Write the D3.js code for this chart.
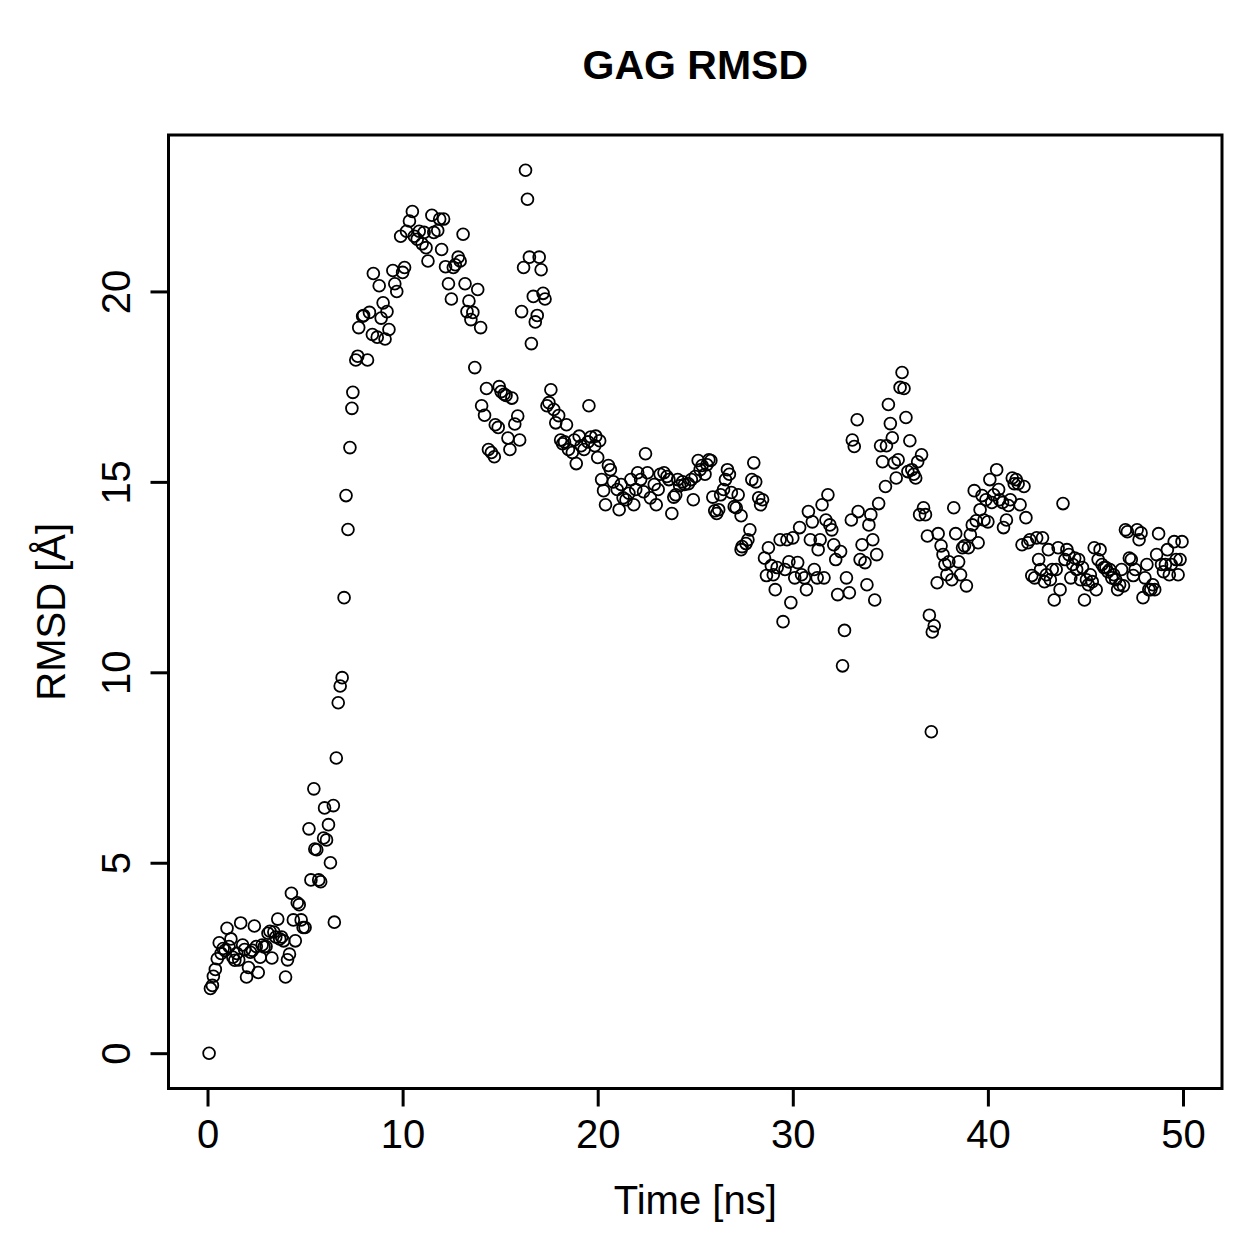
<!DOCTYPE html>
<html><head><meta charset="utf-8">
<script src="https://cdn.jsdelivr.net/npm/d3@7"></script>
<style>body{margin:0;background:#fff}svg{display:block}text{font-family:"Liberation Sans",Arial,Helvetica,sans-serif}</style>
</head><body>
<script>
const timeNs = [
0.08,0.15,0.25,0.3,0.4,0.5,0.6,0.7,0.8,0.9,1.0,1.1,1.2,1.3,1.4,1.5,1.6,1.7,1.8,1.9,
2.0,2.1,2.2,2.3,2.4,2.5,2.6,2.7,2.8,2.9,3.0,3.1,3.2,3.3,3.4,3.5,3.6,3.7,3.8,3.9,
4.0,4.1,4.2,4.3,4.4,4.5,4.6,4.7,4.8,4.9,5.0,
5.2,5.3,5.45,5.5,5.6,5.7,5.8,5.95,6.0,6.1,6.2,6.3,6.45,6.5,6.6,6.7,6.8,6.9,7.0,7.1,7.2,7.3,7.4,7.45,7.6,7.7,7.75,7.95,8.0,
8.2,8.3,8.45,8.5,8.7,8.8,8.9,9.0,9.1,9.2,9.3,9.5,9.6,9.7,9.9,10.0,10.1,10.2,10.35,10.5,10.6,10.75,10.85,11.0,11.1,11.2,11.3,11.5,11.6,11.8,11.9,
12.0,12.1,12.2,12.35,12.5,12.6,12.7,12.85,12.95,13.1,13.2,13.3,13.4,13.5,13.6,13.7,13.85,14.0,14.05,14.2,14.3,14.4,14.55,14.7,14.75,14.9,14.95,
15.05,15.2,15.3,15.4,15.5,15.6,15.75,15.9,16.0,16.1,16.2,16.3,16.4,16.5,16.6,16.7,16.8,16.9,17.0,17.1,17.2,17.3,17.4,17.5,17.6,17.75,17.85,
18.0,18.1,18.2,18.3,18.4,18.5,18.7,18.8,18.9,19.05,19.15,19.3,19.5,19.55,19.65,19.85,19.9,20.0,20.1,20.2,20.3,20.4,20.55,20.65,20.8,
21.0,21.1,21.2,21.3,21.45,21.6,21.7,21.85,21.95,22.05,22.2,22.35,22.45,22.55,22.7,22.9,23.0,23.1,23.2,23.4,23.55,23.65,23.8,23.9,
24.0,24.1,24.2,24.35,24.45,24.65,24.8,24.9,25.0,25.15,25.25,25.35,25.5,25.6,25.7,25.8,25.9,26.0,26.1,26.2,26.3,26.45,26.55,26.65,26.75,26.85,
27.0,27.1,27.2,27.35,27.35,27.4,27.6,27.7,27.8,27.9,28.0,28.1,28.25,28.35,28.45,28.55,28.65,28.75,28.9,29.0,29.1,29.2,29.35,29.5,29.6,29.7,29.8,29.9,
30.0,30.1,30.25,30.35,30.45,30.6,30.7,30.8,30.9,31.0,31.1,31.25,31.3,31.4,31.5,31.6,31.7,31.8,31.9,32.0,32.1,32.2,32.3,32.45,32.55,32.65,32.75,32.9,
33.0,33.05,33.15,33.3,33.35,33.45,33.55,33.7,33.8,33.9,34.0,34.1,34.2,34.3,34.4,34.5,34.6,34.75,34.8,34.9,35.0,35.1,35.2,35.3,35.4,35.5,35.6,35.7,35.8,35.9,
36.0,36.1,36.2,36.3,36.4,36.5,36.6,36.7,36.8,36.9,37.0,37.1,37.15,37.25,37.4,37.45,37.6,37.7,37.8,37.9,38.0,38.15,38.25,38.35,38.5,38.6,38.7,38.8,38.9,
39.0,39.1,39.2,39.3,39.4,39.5,39.6,39.7,39.8,39.9,40.0,40.1,40.2,40.3,40.45,40.55,40.6,40.75,40.8,40.95,41.05,41.15,41.25,41.35,41.45,41.55,41.65,41.75,41.85,41.95,
42.05,42.15,42.25,42.4,42.5,42.6,42.7,42.8,42.9,43.0,43.1,43.2,43.3,43.4,43.5,43.6,43.7,43.85,43.95,44.05,44.15,44.25,44.35,44.45,44.55,44.65,44.75,44.85,44.95,
45.05,45.15,45.25,45.35,45.45,45.55,45.65,45.75,45.85,45.95,46.05,46.15,46.25,46.35,46.45,46.55,46.65,46.75,46.85,46.95,
47.05,47.15,47.25,47.35,47.45,47.55,47.65,47.75,47.85,47.95,48.05,48.15,48.25,48.35,48.45,48.55,48.65,48.75,48.9,
49.0,49.1,49.2,49.3,49.4,49.55,49.65,49.75,49.85,49.95
];
const rmsd = [
0.00,1.70,1.78,2.02,2.20,2.48,2.90,2.62,2.75,2.70,3.28,2.80,3.00,2.52,2.44,2.62,2.45,3.42,2.84,2.72,
2.00,2.25,2.65,2.70,3.34,2.80,2.12,2.52,2.84,2.79,2.80,3.15,3.20,2.50,3.18,3.05,3.52,3.00,3.05,2.95,
2.00,2.45,2.60,4.20,3.50,2.95,3.95,3.90,3.50,3.30,3.30,
5.89,4.55,6.94,5.36,5.34,4.55,4.50,5.65,6.44,5.60,6.00,5.00,6.50,3.44,7.75,9.20,9.64,9.86,11.96,14.64,13.75,15.90,16.93,17.35,18.20,18.30,19.05,19.35,19.37,
18.20,19.45,18.87,20.47,18.80,20.15,19.30,19.70,18.75,19.47,19.00,20.55,20.20,20.00,21.45,20.50,20.63,21.58,21.85,22.10,21.45,21.37,21.58,21.25,21.55,21.15,20.80,22.00,21.55,21.60,21.90,
21.10,21.90,20.65,20.20,19.80,20.63,20.70,20.90,20.80,21.50,20.20,19.47,19.75,19.26,19.45,18.00,20.05,19.05,17.00,16.75,17.45,15.85,15.77,15.66,16.50,16.43,17.50,
17.37,17.30,17.27,16.15,15.85,17.20,16.52,16.73,16.10,19.47,20.63,23.18,22.42,20.90,18.63,19.87,19.20,19.37,20.90,20.57,19.95,19.80,17.00,17.08,17.42,16.90,16.55,
16.74,16.10,16.00,16.05,16.50,15.85,15.77,16.10,15.48,16.20,15.95,15.85,16.05,17.00,16.18,15.95,16.20,15.64,16.08,15.06,14.77,14.40,15.43,15.32,15.00,
14.80,14.27,14.93,14.58,14.53,14.70,15.06,14.40,14.80,15.24,15.06,14.74,15.74,15.24,14.58,14.93,14.40,14.80,15.20,15.24,15.14,15.06,14.17,14.60,
14.66,15.06,14.90,15.00,14.93,14.95,15.06,14.53,15.14,15.56,15.32,15.43,15.20,15.45,15.58,15.56,14.60,14.24,14.17,14.27,14.66,14.80,15.06,15.32,15.20,14.72,
14.35,14.32,14.66,14.11,13.22,13.30,13.38,13.48,13.74,15.06,15.50,15.00,14.58,14.40,14.53,13.00,12.54,13.27,12.80,12.56,12.17,12.75,13.48,11.33,12.70,13.48,12.90,11.83,
13.53,12.48,12.88,13.80,12.56,12.48,12.17,14.22,13.48,13.95,12.70,12.48,13.22,13.48,14.40,12.48,14.00,14.66,13.87,13.74,13.35,12.96,12.04,13.17,10.17,11.10,12.48,12.09,
14.00,16.10,15.93,16.63,14.22,12.96,13.35,12.88,12.30,13.87,14.14,13.48,11.90,13.09,14.43,15.95,15.53,14.88,15.95,17.03,16.53,16.16,15.50,15.10,15.58,17.48,17.87,17.45,16.69,15.27,
16.08,15.32,15.20,15.10,15.53,14.14,15.71,14.32,14.14,13.58,11.50,8.44,11.06,11.22,12.35,13.64,13.32,13.09,12.83,12.56,12.90,12.43,14.32,13.64,12.90,12.56,13.27,13.32,12.27,
13.27,13.61,13.87,14.77,13.98,13.40,14.27,14.64,14.00,14.53,13.95,15.06,14.46,14.66,15.32,14.80,14.53,14.46,13.80,14.00,14.38,14.53,15.10,14.95,15.06,14.95,14.40,13.35,14.88,14.06,
13.40,13.48,12.54,12.48,13.53,12.96,12.70,13.53,12.38,12.56,13.22,12.43,12.70,11.90,12.70,13.27,12.17,14.43,12.96,13.22,13.09,12.48,12.83,13.00,12.70,12.96,12.43,12.75,11.90,
12.43,12.30,12.56,12.38,13.27,12.17,12.96,13.22,12.83,12.75,12.75,12.64,12.70,12.48,12.56,12.43,12.17,12.30,12.70,12.27,
13.74,13.69,13.00,12.96,12.54,12.70,13.74,13.48,13.66,11.96,12.48,12.83,12.17,12.17,12.30,12.17,13.09,13.64,12.83,
12.64,12.83,13.22,12.56,12.83,13.43,12.96,12.56,12.96,13.43
];
const xTicks = [0,10,20,30,40,50];
const yTicks = [0,5,10,15,20];
const titleText = "GAG RMSD";
const xLabel = "Time [ns]";
const yLabel = "RMSD [Å]";

const W = 1259, H = 1259;
const box = {l:168.5, r:1222, t:135, b:1088.5};
const svg = d3.select("body").append("svg").attr("width",W).attr("height",H);

const xr = [0,50], yr = [0, d3.max(rmsd)];
const xpad = (xr[1]-xr[0])*0.04, ypad = (yr[1]-yr[0])*0.04;
const x = d3.scaleLinear().domain([xr[0]-xpad, xr[1]+xpad]).range([box.l, box.r]);
const y = d3.scaleLinear().domain([yr[0]-ypad, yr[1]+ypad]).range([box.b, box.t]);

const pts = timeNs.map((t,i)=>({t, v: rmsd[i]}));
svg.append("g").selectAll("circle").data(pts).enter().append("circle")
  .attr("cx", d=>x(d.t)).attr("cy", d=>y(d.v)).attr("r",5.9)
  .attr("fill","none").attr("stroke","#000").attr("stroke-width",1.8);

svg.append("rect").attr("x",box.l).attr("y",box.t).attr("width",box.r-box.l).attr("height",box.b-box.t)
  .attr("fill","none").attr("stroke","#000").attr("stroke-width",3);

const FS = 40;
// x axis
const gx = svg.append("g").attr("transform",`translate(0,${box.b})`)
  .call(d3.axisBottom(x).tickValues(xTicks).tickSize(18).tickPadding(0).tickFormat(d3.format("d")));
gx.select(".domain").remove();
gx.selectAll(".tick line").attr("stroke-width",3);
gx.selectAll("text").attr("font-size",FS).attr("fill","#000").attr("y",1148-box.b).attr("dy",null);
gx.append("line").attr("x1",x(xTicks[0])).attr("x2",x(xTicks[xTicks.length-1])).attr("stroke","#000").attr("stroke-width",3);

// y axis
const gy = svg.append("g").attr("transform",`translate(${box.l},0)`)
  .call(d3.axisLeft(y).tickValues(yTicks).tickSize(18).tickFormat(d3.format("d")));
gy.select(".domain").remove();
gy.selectAll(".tick line").attr("stroke-width",3);
gy.selectAll("text").attr("font-size",FS).attr("fill","#000")
  .attr("x",0).attr("y",0).attr("dy",null)
  .attr("transform",`translate(${130-box.l},0) rotate(-90)`).attr("text-anchor","middle");
gy.append("line").attr("y1",y(yTicks[0])).attr("y2",y(yTicks[yTicks.length-1])).attr("stroke","#000").attr("stroke-width",3);

svg.append("text").attr("x",(box.l+box.r)/2).attr("y",79).attr("text-anchor","middle")
  .attr("font-size",41).attr("font-weight","bold").text(titleText);
svg.append("text").attr("x",(box.l+box.r)/2).attr("y",1214).attr("text-anchor","middle")
  .attr("font-size",FS).text(xLabel);
svg.append("text").attr("transform",`translate(65,${(box.t+box.b)/2}) rotate(-90)`).attr("text-anchor","middle")
  .attr("font-size",FS).text(yLabel);
</script>
</body></html>
